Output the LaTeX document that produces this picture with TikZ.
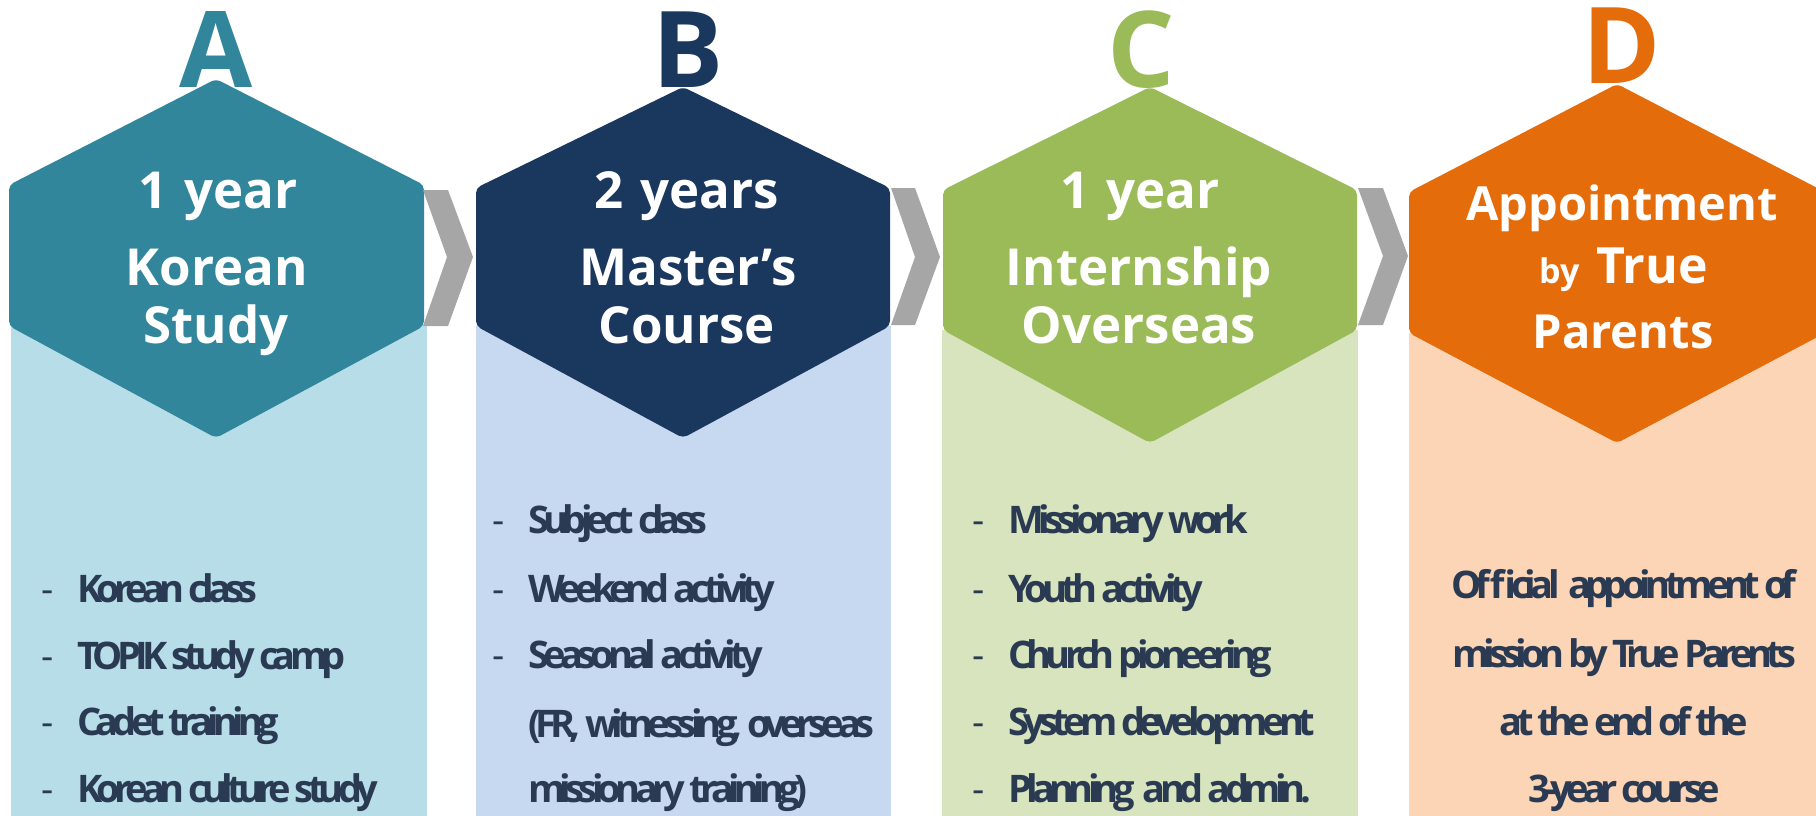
\documentclass[tikz,border=0pt]{standalone}
\usepackage{fontspec}
\setmainfont{Open Sans}
\newfontfamily\bodyf{Open Sans}[LetterSpace=-15]
\definecolor{tealD}{HTML}{31869B}
\definecolor{tealL}{HTML}{B7DEE8}
\definecolor{navyD}{HTML}{1A375E}
\definecolor{navyL}{HTML}{C6D9F1}
\definecolor{greenD}{HTML}{9BBB59}
\definecolor{greenL}{HTML}{D7E4BD}
\definecolor{orangeD}{HTML}{E46C0A}
\definecolor{orangeL}{HTML}{FBD5B5}
\definecolor{chevc}{HTML}{A6A6A6}
\definecolor{textc}{HTML}{2A3A52}
\begin{document}
\begin{tikzpicture}[x=1pt,y=-1pt,
  big/.style={anchor=base, inner sep=0pt, font=\fontsize{106}{106}\selectfont\bfseries},
  head/.style={anchor=base, inner sep=0pt, text=white, font=\fontsize{51}{51}\selectfont\bfseries},
  headD/.style={anchor=base, inner sep=0pt, text=white, font=\fontsize{47}{47}\selectfont\bfseries},
  item/.style={anchor=base west, inner sep=0pt, text=textc, font=\bodyf\fontsize{38}{38}\selectfont\bfseries},
  itemc/.style={anchor=base, inner sep=0pt, text=textc, font=\bodyf\fontsize{38}{38}\selectfont\bfseries},
  dashs/.style={anchor=base west, inner sep=0pt, text=textc, font=\fontsize{38}{38}\selectfont},
  hexa/.style={rounded corners=5pt},
  chev/.style={fill=chevc}]
\useasboundingbox (0,0) rectangle (1816,816);
\fill[white] (0,0) rectangle (1816,816);

% light panels
\fill[tealL] (11,326) rectangle (427,816);
\fill[navyL] (476,326) rectangle (891,816);
\fill[greenL] (942,330) rectangle (1358,816);
\fill[orangeL] (1409,333) rectangle (1816,816);

% big letters
\node[big, text=tealD] (LA) at (216,88) {A};
\node[big, text=navyD] (LB) at (688,88) {B};
\node[big, text=greenD] (LC) at (1141,88) {C};
\node[big, text=orangeD] (LD) at (1622,84) {D};

% hexagons
\fill[tealD, hexa] (9,185) -- (216,79) -- (424,185) -- (424,326) -- (216,438) -- (9,326) -- cycle;
\fill[navyD, hexa] (476,188) -- (683,87) -- (890,188) -- (890,326) -- (683,438) -- (476,326) -- cycle;
\fill[greenD, hexa] (943,190) -- (1150,87) -- (1357,190) -- (1357,330) -- (1150,443) -- (943,330) -- cycle;
\begin{scope}
\clip (0,0) rectangle (1816,816);
\fill[orangeD, hexa] (1409,192) -- (1617,84) -- (1825,192) -- (1825,333) -- (1617,443) -- (1409,333) -- cycle;
\end{scope}

% chevrons
\fill[chev] (423,190) -- (448,190) -- (473,257) -- (448,326) -- (423,326) -- (447,257) -- cycle;
\fill[chev] (891,188) -- (915,188) -- (940,257) -- (915,325) -- (891,325) -- (915,257) -- cycle;
\fill[chev] (1358,188) -- (1383,188) -- (1408,256) -- (1383,325) -- (1358,325) -- (1383,256) -- cycle;

% headings
\node[head] (a1) at (218,208) {1\,\,year};
\node[head] (a2) at (217,285) {Korean};
\node[head] (a3) at (216,343) {Study};
\node[head] (b1) at (687,208) {2\,\,years};
\node[head] (b2) at (688,285) {Master’s};
\node[head] (b3) at (687,343) {Course};
\node[head] (c1) at (1140,208) {1\,\,year};
\node[head] (c2) at (1139,285) {Internship};
\node[head] (c3) at (1139,343) {Overseas};
\node[headD] (d1) at (1622,220) {Appointment};
\node[anchor=base west, inner sep=0pt, text=white, font=\fontsize{34}{34}\selectfont\bfseries] (d2a) at (1539,283) {by};
\node[anchor=base west, inner sep=0pt, text=white, font=\fontsize{50}{50}\selectfont\bfseries] (d2b) at (1596,283) {True};
\node[headD] (d3) at (1623,348) {Parents};

% items A
\foreach \y/\t [count=\i] in {602/Korean class, 669/TOPIK study camp, 735/Cadet training, 802/Korean culture study}{
  \node[dashs] (ad\i) at (41,\y) {-};
  \node[item] (ai\i) at (77,\y) {\t};
}
% items B
\foreach \y/\t [count=\i] in {533/Subject class, 602/Weekend activity, 668/Seasonal activity}{
  \node[dashs] (bd\i) at (492,\y) {-};
  \node[item] (bi\i) at (528,\y) {\t};
}
\node[item] (bi4) at (528,737) {(FR, witnessing, overseas};
\node[item] (bi5) at (528,802) {missionary training)};
% items C
\foreach \y/\t [count=\i] in {533/Missionary work, 602/Youth activity, 668/Church pioneering, 735/System development, 802/Planning\ \ and admin.}{
  \node[dashs] (cd\i) at (972,\y) {-};
  \node[item] (ci\i) at (1008,\y) {\t};
}
% text D
\node[itemc] (di1) at (1624,598) {Official\ \ appointment of};
\node[itemc] (di2) at (1624,667) {mission by True Parents};
\node[itemc] (di3) at (1624,735) {at the end of the};
\node[itemc] (di4) at (1624,802) {3-year course};
\end{tikzpicture}
\end{document}
